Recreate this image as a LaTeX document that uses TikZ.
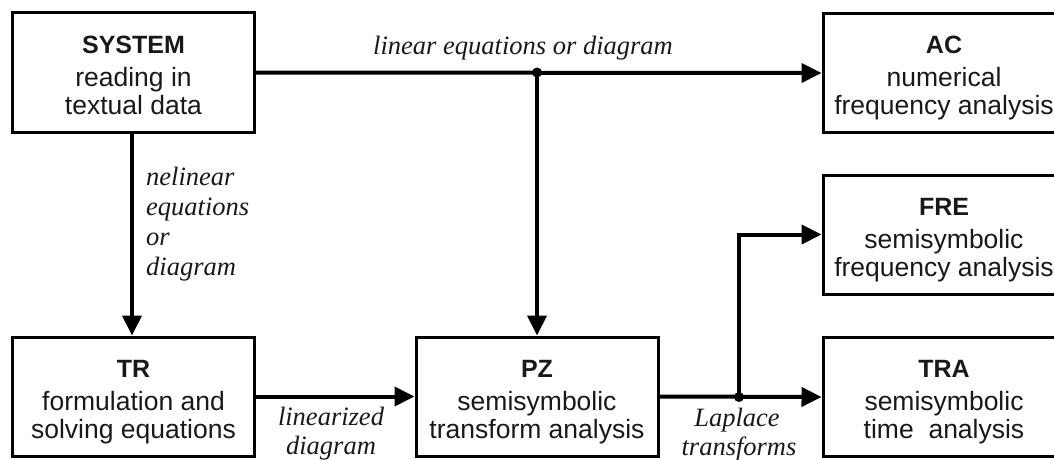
\documentclass[tikz,border=0pt]{standalone}
\usepackage{fontspec}
\setmainfont{Liberation Serif}
\setsansfont{Liberation Sans}
\usetikzlibrary{arrows.meta}
\begin{document}
\begin{tikzpicture}[x=1pt,y=-1pt,
  box/.style={draw=black, line width=3pt, minimum width=242pt, minimum height=119pt,
    inner sep=0pt, align=center, text=black!90,
    font=\sffamily\fontsize{26.5}{28}\selectfont},
  conn/.style={line width=4pt, -{Triangle[length=20pt,width=19pt]}},
  plain/.style={line width=4pt},
  lbl/.style={font=\itshape\fontsize{26.5}{29}\selectfont, inner sep=0pt, text=black!90},
  jdot/.style={circle, fill=black, inner sep=0pt, minimum size=10pt}
]
\useasboundingbox (0,0) rectangle (1054,460);
\clip (0,0) rectangle (1054,460);
\newcommand{\ttl}[1]{\rule{0pt}{30pt}{\fontsize{25}{28}\selectfont\bfseries #1}\\[5pt]}
\newcommand{\lst}{\rule[-8pt]{0pt}{8pt}}

\node[box] (sys) at (133.5,72.5) {\ttl{SYSTEM}reading in\\textual data\lst};
\node[box] (ac)  at (944,73)     {\ttl{AC}numerical\\frequency analysis\lst};
\node[box] (fre) at (944,234.5)  {\ttl{FRE}semisymbolic\\frequency analysis\lst};
\node[box] (tr)  at (133.5,396.5){\ttl{TR}formulation and\\solving equations\lst};
\node[box] (pz)  at (537,396.5)  {\ttl{PZ}semisymbolic\\transform analysis\lst};
\node[box] (tra) at (944,397)    {\ttl{TRA}semisymbolic\\time\ \ analysis\lst};

\coordinate (j1) at (pz.north |- sys.east);
\coordinate (j2) at (739,397);

\draw[conn] (sys.east) -- (ac.west);
\draw[conn] (j1) -- (pz.north);
\node[jdot] (d1) at (j1) {};
\draw[conn] (sys.south -| 132,0) -- (tr.north -| 132,0);
\draw[conn] (tr.east) -- (pz.west);
\draw[conn] (pz.east) -- (tra.west);
\draw[conn] (j2) |- (fre.west);
\node[jdot] (d2) at (j2) {};

\node[lbl, anchor=base] (l1) at (523,55) {linear equations or diagram};
\node[lbl, anchor=base west, align=left] (l2) at (146,185) {nelinear};
\node[lbl, anchor=base west] (l2b) at (146,215) {equations};
\node[lbl, anchor=base west] (l2c) at (146,245) {or};
\node[lbl, anchor=base west] (l2d) at (146,275) {diagram};
\node[lbl, anchor=base] (l3) at (331,425) {linearized};
\node[lbl, anchor=base] (l3b) at (331,454) {diagram};
\node[lbl, anchor=base] (l4) at (737,426) {Laplace};
\node[lbl, anchor=base] (l4b) at (739,455) {transforms};
\end{tikzpicture}
\end{document}
